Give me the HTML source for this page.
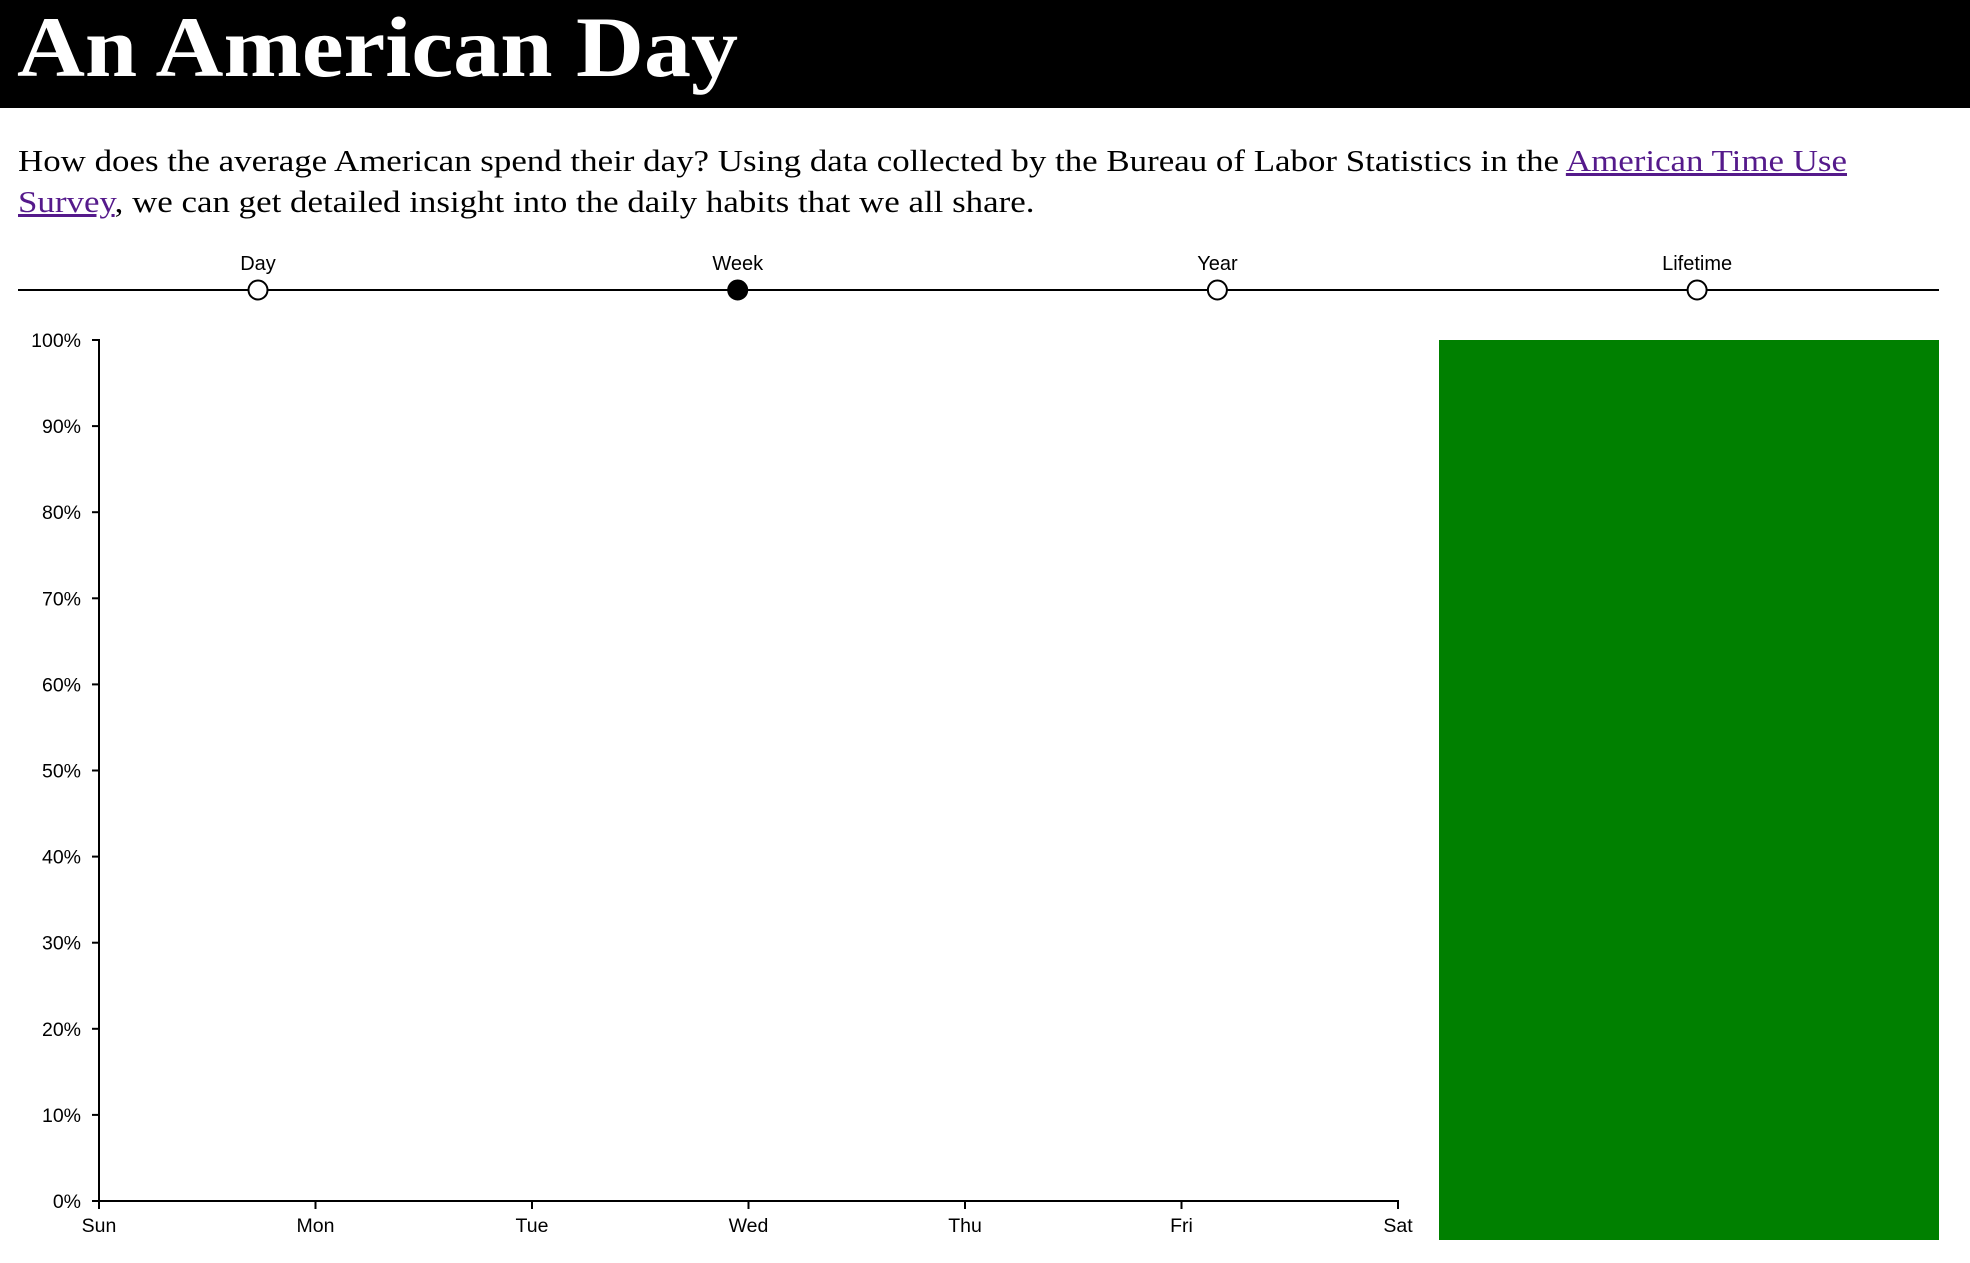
<!DOCTYPE html>
<html><head><meta charset="utf-8"><style>
html,body{margin:0;padding:0;width:1970px;height:1263px;overflow:hidden;background:#fff}
#hdr{position:absolute;left:0;top:0;width:1970px;height:108px;background:#000}
#title{position:absolute;left:17px;top:-3px;font:bold 86px "Liberation Serif",serif;color:#fff;white-space:nowrap;transform-origin:0 0}
#intro{position:absolute;left:18px;top:140px;font:31px/41px "Liberation Serif",serif;color:#000;white-space:nowrap;transform-origin:0 0}
#intro a{color:#551a8b}
svg{position:absolute;left:0;top:0}
</style></head><body>
<div id="hdr"><div id="title">An American Day</div></div>
<div id="intro"><span id="l1">How does the average American spend their day? Using data collected by the Bureau of Labor Statistics in the <a href="#">American Time Use</a></span><br><a href="#">Survey</a>, we can get detailed insight into the daily habits that we all share.</div>
<svg id="chart" width="1970" height="1263"></svg>
<script>
const scaleLabels=["Day","Week","Year","Lifetime"];
const selectedScale=1;
const days=["Sun","Mon","Tue","Wed","Thu","Fri","Sat"];
const yTicks=[0,10,20,30,40,50,60,70,80,90,100];
const barValues=[100];
(function(){
 const t=document.getElementById('title');t.style.transform='scaleX('+(721/t.getBoundingClientRect().width)+')';
 const l=document.getElementById('l1');const f=1829/l.getBoundingClientRect().width;
 document.getElementById('intro').style.transform='scaleX('+f+')';
})();
const NS="http://www.w3.org/2000/svg";
const svg=document.getElementById('chart');
function mk(t,a,p){const e=document.createElementNS(NS,t);for(const k in a)e.setAttribute(k,a[k]);(p||svg).appendChild(e);return e;}
const sl=mk('g',{});


const line=mk('line',{x1:18,x2:1939,y1:290,y2:290,stroke:'#000','stroke-width':2},sl);


const sx=i=>258+i*479.7;
scaleLabels.forEach((l,i)=>{
 const c=mk('circle',{cx:sx(i),cy:290,r:9.5,fill:i===selectedScale?'#000':'#fff',stroke:'#000','stroke-width':2},sl);
 
 
 const t=mk('text',{x:sx(i),y:270,'text-anchor':'middle','font-family':'Liberation Sans, sans-serif','font-size':20},sl);
 t.textContent=l;
 
 
});
const X0=99,X1=1398,Y0=1201,Y1=340;
const x=i=>X0+i*(X1-X0)/(days.length-1);
const y=v=>Y0-(v/100)*(Y0-Y1);
const ya=mk('g',{});


mk('path',{d:`M${X0-7},${Y1}H${X0}V${Y0}H${X0-7}`,fill:'none',stroke:'#000','stroke-width':2},ya);
yTicks.forEach(v=>{
 mk('line',{x1:X0-7,x2:X0,y1:y(v),y2:y(v),stroke:'#000','stroke-width':2},ya);
 const t=mk('text',{x:X0-18,y:y(v)+7,'text-anchor':'end','font-family':'Liberation Sans, sans-serif','font-size':19.5},ya);
 t.textContent=v+'%';
 
 
});
const xa=mk('g',{});


mk('path',{d:`M${X0},${Y0+8}V${Y0}H${X1}V${Y0+8}`,fill:'none',stroke:'#000','stroke-width':2},xa);
days.forEach((d,i)=>{
 mk('line',{x1:x(i),x2:x(i),y1:Y0,y2:Y0+8,stroke:'#000','stroke-width':2},xa);
 const t=mk('text',{x:x(i),y:1232,'text-anchor':'middle','font-family':'Liberation Sans, sans-serif','font-size':19.5},xa);
 t.textContent=d;
 
 
});
const BX0=1439,BX1=1939,BB=1240,BT=340;
const by=v=>BB-(v/100)*(BB-BT);
barValues.forEach(v=>{
 const r=mk('rect',{x:BX0,y:by(v),width:BX1-BX0,height:BB-by(v),fill:'#008000'});
 
 
});
</script>
</body></html>
